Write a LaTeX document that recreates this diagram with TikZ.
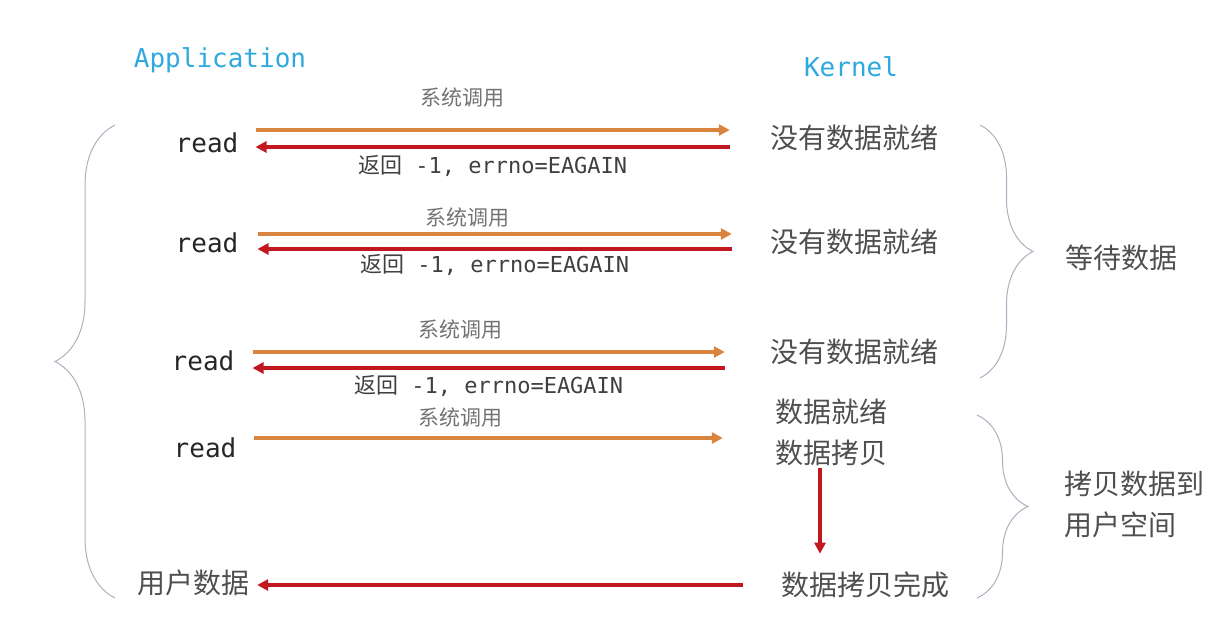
\documentclass[tikz,border=0pt]{standalone}
\usepackage{fontspec}
\setmonofont{DejaVu Sans Mono}
\newfontfamily\cjk{Noto Sans CJK SC}
\usetikzlibrary{arrows.meta,positioning,decorations.pathreplacing}
\definecolor{appblue}{HTML}{2EA9DF}
\definecolor{callorange}{HTML}{D8843E}
\definecolor{retred}{HTML}{C3171F}
\definecolor{txtgrey}{HTML}{4F4F4F}
\definecolor{bracegrey}{HTML}{A8B2C0}
\tikzstyle{title} = [font=\ttfamily\fontsize{26}{30}\selectfont, text=appblue, inner sep=2pt]
\tikzstyle{rd} = [font=\ttfamily\fontsize{26}{30}\selectfont, text=black!85, inner sep=2pt]
\tikzstyle{kern} = [font=\cjk\fontsize{28}{41}\selectfont, text=txtgrey, inner sep=2pt, align=left]
\tikzstyle{sys} = [font=\cjk\fontsize{21}{24}\selectfont, text=black!55, inner sep=1pt]
\tikzstyle{ret} = [font=\ttfamily\fontsize{22}{24}\selectfont, text=black!75, inner sep=1pt]
\tikzstyle{callline} = [->, draw=callorange, line width=3.5pt]
\tikzstyle{retline} = [->, draw=retred, line width=3.8pt]
\tikzstyle{brc} = [draw=bracegrey, line width=1pt, decorate]

\begin{document}
\begin{tikzpicture}[x=1pt, y=-1pt, >={Triangle[length=11pt,width=11pt]}]
    \useasboundingbox (0,0) rectangle (1230,630);

    \node[title] (app) at (220,60) {Application};
    \node[title] (kernel) at (851,67) {Kernel};

    % 应用侧
    \node[rd] (r1) at (207,143) {read};
    \node[rd] (r2) at (207,243) {read};
    \node[rd] (r3) at (203,361) {read};
    \node[rd] (r4) at (205,448) {read};
    \node[kern] (user) at (193,583) {用户数据};

    % 内核侧
    \node[kern] (k1) at (854,138) {没有数据就绪};
    \node[kern] (k2) at (854,242) {没有数据就绪};
    \node[kern] (k3) at (854,352) {没有数据就绪};
    \node[kern] (k4) at (831,432) {数据就绪\\数据拷贝};
    \node[kern] (k5) at (865,585) {数据拷贝完成};

    % 系统调用
    \node[sys] (s1) at (462,98) {系统调用};
    \node[sys] (s2) at (467,218) {系统调用};
    \node[sys] (s3) at (460,330) {系统调用};
    \node[sys] (s4) at (460,418) {系统调用};

    \draw[callline] ([xshift=15pt,yshift=13pt]r1.east) -- ([xshift=-38pt,yshift=8pt]k1.west);
    \draw[retline] ([xshift=-38pt,yshift=-9pt]k1.west) -- node[ret, below=5pt] {{\cjk 返回} -1, errno=EAGAIN} ([xshift=15pt,yshift=-4pt]r1.east);

    \draw[callline] ([xshift=17pt,yshift=9pt]r2.east) -- ([xshift=-36pt,yshift=8pt]k2.west);
    \draw[retline] ([xshift=-36pt,yshift=-7pt]k2.west) -- node[ret, below=2pt] {{\cjk 返回} -1, errno=EAGAIN} ([xshift=17pt,yshift=-6pt]r2.east);

    \draw[callline] ([xshift=16pt,yshift=9pt]r3.east) -- ([xshift=-43pt]k3.west);
    \draw[retline] ([xshift=-43pt,yshift=-16pt]k3.west) -- node[ret, below=4pt] {{\cjk 返回} -1, errno=EAGAIN} ([xshift=16pt,yshift=-7pt]r3.east);

    \draw[callline] ([xshift=15pt,yshift=10pt]r4.east) -- ([xshift=-50pt,yshift=-6pt]k4.west);

    % 拷贝
    \draw[retline, shorten >=16pt] ([xshift=-11pt]k4.south) -- ([xshift=-11pt]k4.south |- k5.north);
    \draw[retline] ([xshift=-36pt]k5.west) -- ([xshift=6pt,yshift=-2pt]user.east);

    % 括号
    \draw[brc, decoration={brace, amplitude=60pt}] (115,598) -- (115,125);
    \draw[brc, decoration={brace, amplitude=53pt}] (980,125) -- (980,378);
    \draw[brc, decoration={brace, amplitude=51pt}] (977,415) -- (977,598);

    \node[kern] (wait) at (1121,258) {等待数据};
    \node[kern, anchor=west] (copy) at (1062,504) {拷贝数据到\\用户空间};
\end{tikzpicture}
\end{document}
